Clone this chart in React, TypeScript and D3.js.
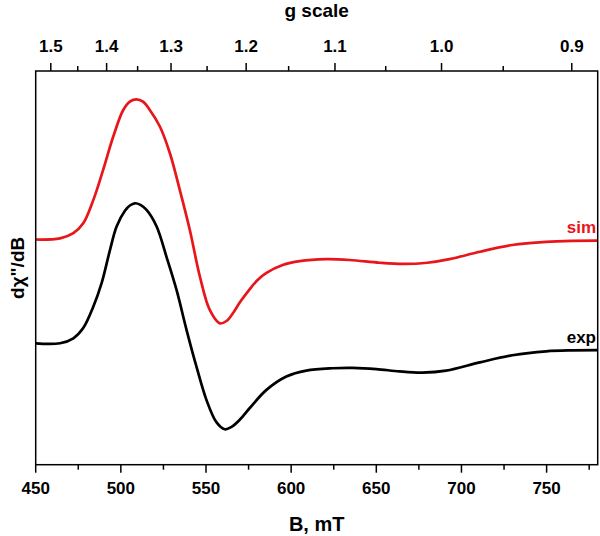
import React from "react";
import * as d3 from "d3";

// Magnetic field (mT) and signal (arbitrary units)
const simB = [450, 464.3, 472.1, 477.9, 483.8, 489.6, 495.5, 501.4, 505.5, 509.2, 513, 517, 522.9, 528.8, 534.6, 540.5, 546.4, 552.2, 558.1, 562, 566, 570, 575.7, 580, 585.5, 595, 605, 620.6, 634.3, 651.9, 666, 680, 693, 710.8, 729.9, 749.7, 765, 780];
const simY = [57.2, 57.5, 58.8, 61.3, 67.2, 74.9, 83.3, 90.1, 92.3, 92.8, 92.2, 90.1, 85.9, 79.1, 69.8, 59.6, 47.8, 39.3, 35.9, 36.5, 38.6, 41.3, 44.6, 46.8, 48.7, 50.7, 51.7, 52.2, 52.0, 51.3, 51.0, 51.3, 52.2, 54.1, 55.8, 56.6, 56.85, 56.9];

const expB = [450, 464.3, 472.1, 477.9, 483.8, 488.7, 493.6, 497.5, 502.4, 505.5, 508.2, 511.5, 515.1, 521, 526.8, 532.7, 538.6, 544.4, 550.3, 556.1, 561, 565, 569.8, 575.7, 585.5, 597.2, 608.9, 624.3, 636.1, 650, 663.6, 677, 691, 710.8, 729.9, 749.7, 765, 780];
const expY = [30.8, 30.84, 32.1, 34.7, 40.1, 46.1, 54.5, 60.5, 64.5, 65.9, 66.4, 66.0, 64.7, 60.5, 52.8, 44.4, 34.2, 24.9, 16.4, 10.8, 9.0, 9.6, 11.4, 14.4, 19.0, 22.4, 23.9, 24.5, 24.6, 24.3, 23.7, 23.4, 23.9, 26.0, 27.8, 28.8, 29.05, 29.1];

const bTicks = [450, 500, 550, 600, 650, 700, 750];
const bMinor = [475, 525, 575, 625, 675, 725, 775];
const gTicks = [1.5, 1.4, 1.3, 1.2, 1.1, 1.0, 0.9];
const gMinor = [1.45, 1.35, 1.25, 1.15, 1.05, 0.95];
const G_TIMES_B = 688.3; // g * B(mT)

const W = 600, H = 536;
const L = 35.7, R = 597.7, T = 71, B = 464.7;
const FONT = "'Liberation Sans', Arial, sans-serif";
const RED = "#e8151b";

export default function App() {
  const x = d3.scaleLinear().domain([450, 780]).range([L, R]);
  const y = d3.scaleLinear().domain([0, 100]).range([B, T]);
  const line = d3.line<[number, number]>().x(d => x(d[0])).y(d => y(d[1])).curve(d3.curveCatmullRom.alpha(0.5));
  const simPts = simB.map((b, i) => [b, simY[i]] as [number, number]);
  const expPts = expB.map((b, i) => [b, expY[i]] as [number, number]);
  const gx = (g: number) => x(G_TIMES_B / g);

  return (
    <svg width={W} height={H} style={{ position: "absolute", left: 0, top: 0, background: "#fff" }} fontFamily={FONT}>
      <path d={line(simPts) || ""} fill="none" stroke={RED} strokeWidth={2.7} />
      <path d={line(expPts) || ""} fill="none" stroke="#000" strokeWidth={2.7} />
      <rect x={L} y={T} width={R - L} height={B - T} fill="none" stroke="#000" strokeWidth={1.5} />
      {/* bottom axis */}
      {bTicks.map(t => (
        <g key={"b" + t}>
          <line x1={x(t)} x2={x(t)} y1={B} y2={B + 8} stroke="#000" strokeWidth={1.5} />
          <text x={x(t)} y={494} textAnchor="middle" fontSize={17} fontWeight="bold">{t}</text>
        </g>
      ))}
      {bMinor.map(t => (
        <line key={"bm" + t} x1={x(t)} x2={x(t)} y1={B} y2={B + 5} stroke="#000" strokeWidth={1.5} />
      ))}
      {/* top axis */}
      {gTicks.map(g => (
        <g key={"g" + g}>
          <line x1={gx(g)} x2={gx(g)} y1={T} y2={T - 8} stroke="#000" strokeWidth={1.5} />
          <text x={gx(g)} y={52.3} textAnchor="middle" fontSize={17} fontWeight="bold">{g.toFixed(1)}</text>
        </g>
      ))}
      {gMinor.map(g => (
        <line key={"gm" + g} x1={gx(g)} x2={gx(g)} y1={T} y2={T - 5} stroke="#000" strokeWidth={1.5} />
      ))}
      <text x={(L + R) / 2} y={17} textAnchor="middle" fontSize={19} fontWeight="bold">g scale</text>
      <text x={(L + R) / 2} y={531} textAnchor="middle" fontSize={20} fontWeight="bold">B, mT</text>
      <text transform={`translate(24,${(T + B) / 2}) rotate(-90)`} textAnchor="middle" fontSize={19} fontWeight="bold">dχ"/dB</text>
      <text x={596} y={233} textAnchor="end" fontSize={17} fontWeight="bold" fill={RED}>sim</text>
      <text x={596} y={343} textAnchor="end" fontSize={17} fontWeight="bold" fill="#000">exp</text>
    </svg>
  );
}
